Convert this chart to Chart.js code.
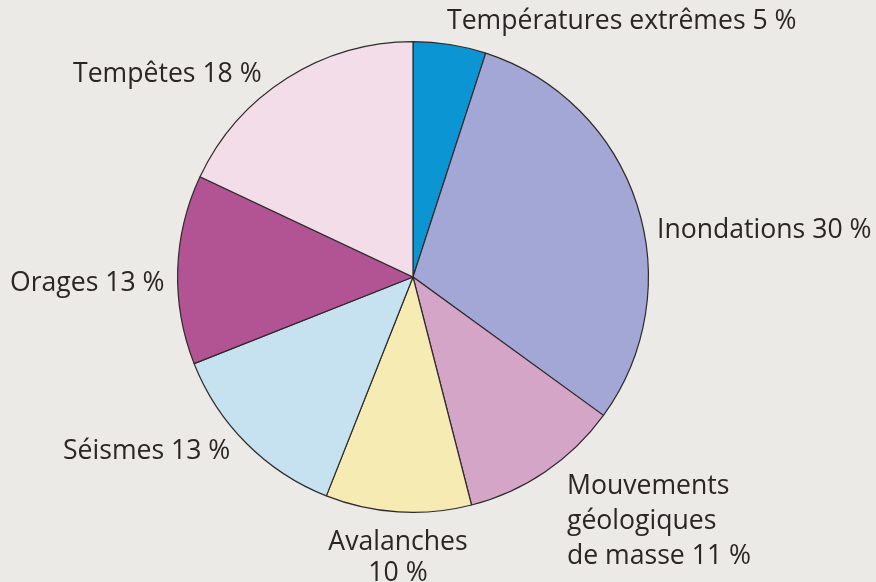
<!DOCTYPE html>
<html>
<head>
<meta charset="utf-8">
<script src="https://cdn.jsdelivr.net/npm/chart.js@4.4.1/dist/chart.umd.min.js"></script>
<style>
  html, body { margin: 0; padding: 0; background: #ebeae7; }
  #wrap { width: 876px; height: 582px; position: relative; }
</style>
</head>
<body>
<div id="wrap"><canvas id="pie" width="876" height="582"></canvas></div>
<script>
// categories (clockwise from 12 o'clock) and shares in %
const categories = ['Températures extrêmes', 'Inondations', 'Mouvements géologiques de masse', 'Avalanches', 'Séismes', 'Orages', 'Tempêtes'];
const shares = [5, 30, 11, 10, 13, 13, 18];
const sliceColors = ['#0b95d3', '#a2a7d5', '#d5a5c8', '#f6ebb3', '#c6e1ef', '#b25394', '#f3dde8'];

// label text lines, and where they sit on the page
const labelLines = [
  ['Températures extrêmes 5 %'],
  ['Inondations 30 %'],
  ['Mouvements', 'géologiques', 'de masse 11 %'],
  ['Avalanches', '10 %'],
  ['Séismes 13 %'],
  ['Orages 13 %'],
  ['Tempêtes 18 %']
];
const labelSpots = [
  { x: 447, y: 21, align: 'left', gap: 0 },
  { x: 657, y: 230, align: 'left', gap: 0 },
  { x: 567, y: 486, align: 'left', gap: 35 },
  { x: 398, y: 542, align: 'center', gap: 31 },
  { x: 63, y: 451, align: 'left', gap: 0 },
  { x: 10, y: 283, align: 'left', gap: 0 },
  { x: 73, y: 74, align: 'left', gap: 0 }
];

const outsideLabels = {
  id: 'outsideLabels',
  afterDraw(chart) {
    const ctx = chart.ctx;
    ctx.save();
    ctx.fillStyle = '#2b2624';
    ctx.font = '26.6px "Open Sans", sans-serif';
    ctx.textBaseline = 'middle';
    labelLines.forEach((lines, i) => {
      const p = labelSpots[i];
      ctx.textAlign = p.align;
      lines.forEach((t, k) => ctx.fillText(t, p.x, p.y + k * p.gap));
    });
    ctx.restore();
  }
};

new Chart(document.getElementById('pie'), {
  type: 'pie',
  data: {
    labels: categories,
    datasets: [{
      data: shares,
      backgroundColor: sliceColors,
      borderColor: '#2e2a2a',
      borderWidth: 1.2
    }]
  },
  options: {
    responsive: false,
    animation: false,
    layout: { padding: { top: 41, bottom: 69, left: 177, right: 227 } },
    plugins: {
      legend: { display: false },
      tooltip: { enabled: false }
    }
  },
  plugins: [outsideLabels]
});
</script>
</body>
</html>
